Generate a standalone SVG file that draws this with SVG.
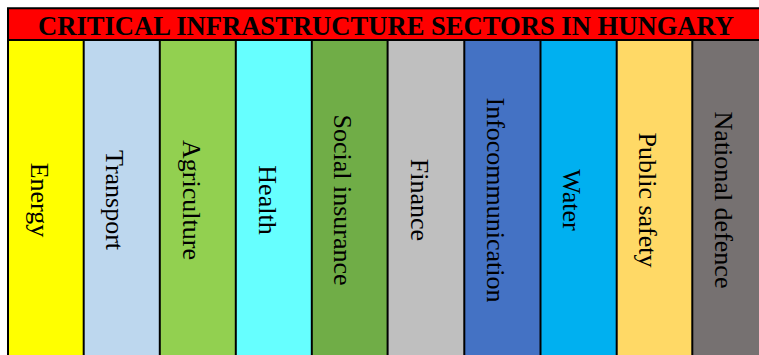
<svg xmlns="http://www.w3.org/2000/svg" width="759" height="355" viewBox="0 0 759 355">
<style>
.lbl{font-family:"Liberation Serif","Times New Roman",serif;font-size:26px;fill:#000;text-anchor:middle}
.ttl{font-family:"Liberation Serif","Times New Roman",serif;font-size:26.5px;font-weight:bold;fill:#000;text-anchor:middle}
.ln{stroke:#000;stroke-width:2;fill:none}
</style>
<rect x="0" y="0" width="759" height="355" fill="#fff"/>
<g id="header">
<rect x="8" y="8.3" width="760" height="31.7" fill="#FF0000"/>
<text class="ttl" x="386" y="35" textLength="696" lengthAdjust="spacingAndGlyphs">CRITICAL INFRASTRUCTURE SECTORS IN HUNGARY</text>
</g>
<g id="energy"><rect x="8" y="40" width="75.7" height="315" fill="#FFFF00"/><text class="lbl" transform="translate(30.6,200) rotate(90)">Energy</text></g>
<g id="transport"><rect x="83.7" y="40" width="76.1" height="315" fill="#BDD7EE"/><text class="lbl" transform="translate(106.4,200) rotate(90)">Transport</text></g>
<g id="agriculture"><rect x="159.8" y="40" width="76" height="315" fill="#92D050"/><text class="lbl" transform="translate(182.5,200) rotate(90)">Agriculture</text></g>
<g id="health"><rect x="235.8" y="40" width="76" height="315" fill="#66FFFF"/><text class="lbl" transform="translate(258.5,200) rotate(90)">Health</text></g>
<g id="social-insurance"><rect x="311.8" y="40" width="75.8" height="315" fill="#70AD47"/><text class="lbl" transform="translate(334.4,200) rotate(90)">Social insurance</text></g>
<g id="finance"><rect x="387.6" y="40" width="76.7" height="315" fill="#BFBFBF"/><text class="lbl" transform="translate(410.6,200) rotate(90)">Finance</text></g>
<g id="infocommunication"><rect x="464.3" y="40" width="76.2" height="315" fill="#4472C4"/><text class="lbl" transform="translate(487.1,200) rotate(90)">Infocommunication</text></g>
<g id="water"><rect x="540.5" y="40" width="76.2" height="315" fill="#00B0F0"/><text class="lbl" transform="translate(563.3,200) rotate(90)">Water</text></g>
<g id="public-safety"><rect x="616.7" y="40" width="75.6" height="315" fill="#FFD966"/><text class="lbl" transform="translate(639.2,200) rotate(90)">Public safety</text></g>
<g id="national-defence"><rect x="692.3" y="40" width="76" height="315" fill="#767171"/><text class="lbl" transform="translate(715.1,200) rotate(90)">National defence</text></g>
<g id="grid">
<path class="ln" d="M8,8.3 H768 M8,40 H768 M8,7.3 V355 M83.7,40 V355 M159.8,40 V355 M235.8,40 V355 M311.8,40 V355 M387.6,40 V355 M464.3,40 V355 M540.5,40 V355 M616.7,40 V355 M692.3,40 V355"/>
</g>
</svg>
